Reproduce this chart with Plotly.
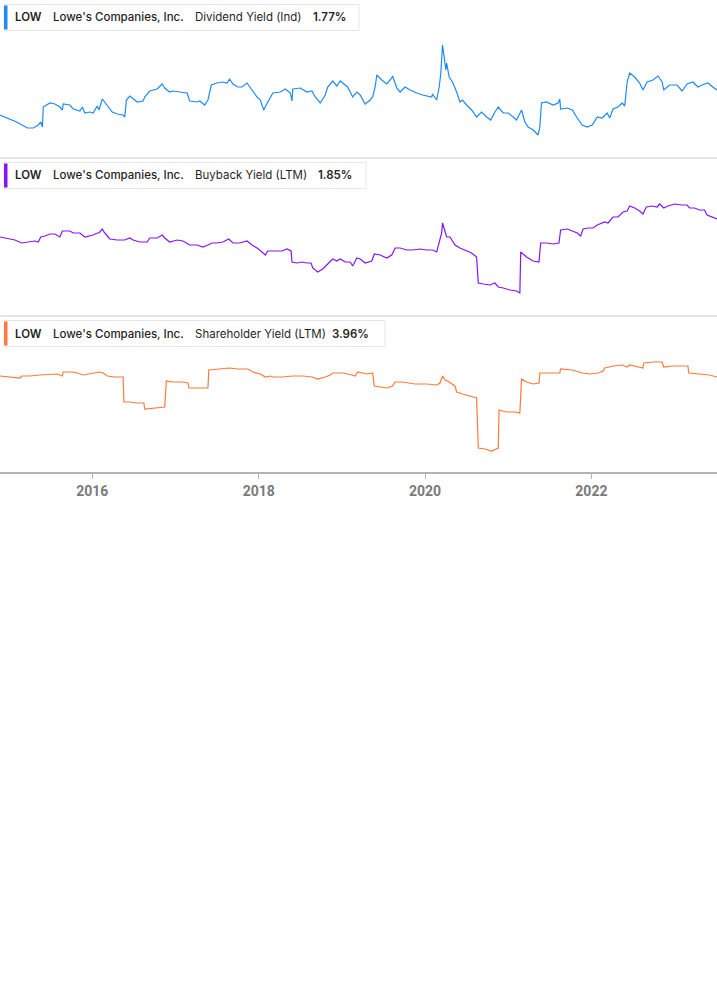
import plotly.graph_objects as go

W, H = 717, 1005

# Dividend yield (Ind), % — x in decimal years
div_years = [2014.89, 2015.01, 2015.09, 2015.22, 2015.29, 2015.35, 2015.38, 2015.40, 2015.41, 2015.49,
             2015.55, 2015.61, 2015.64, 2015.65, 2015.73, 2015.77, 2015.85, 2015.88, 2015.91, 2015.97,
             2016.01, 2016.06, 2016.08, 2016.12, 2016.18, 2016.24, 2016.30, 2016.37, 2016.39, 2016.41,
             2016.45, 2016.49, 2016.54, 2016.61, 2016.63, 2016.69, 2016.78, 2016.84, 2016.87, 2016.93,
             2016.97, 2017.05, 2017.14, 2017.17, 2017.26, 2017.29, 2017.35, 2017.39, 2017.43, 2017.50,
             2017.56, 2017.62, 2017.65, 2017.69, 2017.75, 2017.80, 2017.86, 2017.92, 2017.98, 2018.02,
             2018.06, 2018.11, 2018.17, 2018.26, 2018.32, 2018.38, 2018.40, 2018.41, 2018.50, 2018.58,
             2018.64, 2018.68, 2018.74, 2018.80, 2018.83, 2018.89, 2018.94, 2018.98, 2019.04, 2019.07,
             2019.13, 2019.18, 2019.22, 2019.28, 2019.34, 2019.37, 2019.40, 2019.42, 2019.48, 2019.54,
             2019.60, 2019.61, 2019.66, 2019.70, 2019.76, 2019.82, 2019.90, 2019.97, 2020.08, 2020.09,
             2020.14, 2020.17, 2020.19, 2020.21, 2020.23, 2020.25, 2020.26, 2020.29, 2020.33, 2020.38,
             2020.42, 2020.45, 2020.50, 2020.56, 2020.62, 2020.68, 2020.74, 2020.79, 2020.84, 2020.88,
             2020.94, 2021.00, 2021.06, 2021.10, 2021.16, 2021.20, 2021.24, 2021.30, 2021.36, 2021.38,
             2021.40, 2021.46, 2021.54, 2021.60, 2021.62, 2021.63, 2021.71, 2021.77, 2021.83, 2021.89,
             2021.95, 2022.01, 2022.07, 2022.13, 2022.19, 2022.22, 2022.26, 2022.32, 2022.37, 2022.40,
             2022.43, 2022.46, 2022.52, 2022.58, 2022.62, 2022.67, 2022.74, 2022.80, 2022.85, 2022.87,
             2022.94, 2023.03, 2023.09, 2023.15, 2023.22, 2023.28, 2023.33, 2023.40, 2023.46, 2023.51]
div_yield = [1.27, 1.19, 1.13, 1.01, 1.01, 1.07, 1.13, 1.03, 1.43, 1.51,
             1.49, 1.43, 1.37, 1.49, 1.47, 1.39, 1.35, 1.43, 1.31, 1.33,
             1.31, 1.45, 1.37, 1.59, 1.45, 1.33, 1.29, 1.27, 1.23, 1.57,
             1.65, 1.59, 1.53, 1.55, 1.63, 1.75, 1.79, 1.89, 1.81, 1.73,
             1.75, 1.73, 1.71, 1.55, 1.53, 1.55, 1.47, 1.57, 1.87, 1.91,
             1.93, 1.91, 1.99, 1.89, 1.83, 1.83, 1.91, 1.77, 1.63, 1.57,
             1.37, 1.53, 1.71, 1.73, 1.79, 1.71, 1.55, 1.79, 1.81, 1.73,
             1.75, 1.63, 1.51, 1.67, 1.83, 1.95, 1.85, 1.95, 1.87, 1.83,
             1.63, 1.73, 1.67, 1.49, 1.57, 1.63, 1.83, 2.07, 1.97, 1.89,
             2.01, 2.05, 1.81, 1.73, 1.83, 1.77, 1.71, 1.67, 1.63, 1.69,
             1.57, 1.83, 2.11, 2.67, 2.43, 2.17, 2.31, 2.03, 1.93, 1.73,
             1.53, 1.57, 1.47, 1.37, 1.23, 1.33, 1.23, 1.17, 1.33, 1.43,
             1.31, 1.31, 1.23, 1.17, 1.37, 1.13, 1.03, 0.97, 0.87, 1.03,
             1.51, 1.53, 1.47, 1.51, 1.59, 1.39, 1.41, 1.37, 1.21, 1.07,
             1.03, 1.07, 1.23, 1.21, 1.31, 1.21, 1.39, 1.43, 1.51, 1.45,
             1.93, 2.11, 2.03, 1.91, 1.77, 1.93, 1.97, 2.05, 1.93, 1.77,
             1.87, 1.87, 1.75, 1.89, 1.93, 1.83, 1.87, 1.91, 1.83, 1.77]

# Buyback yield (LTM), %
bb_years = [2014.89, 2014.97, 2015.07, 2015.15, 2015.25, 2015.31, 2015.35, 2015.38, 2015.43, 2015.49,
            2015.55, 2015.61, 2015.64, 2015.73, 2015.77, 2015.85, 2015.91, 2015.97, 2016.01, 2016.06,
            2016.08, 2016.12, 2016.14, 2016.18, 2016.21, 2016.30, 2016.39, 2016.45, 2016.49, 2016.57,
            2016.66, 2016.69, 2016.78, 2016.84, 2016.87, 2016.93, 2017.02, 2017.09, 2017.14, 2017.17,
            2017.26, 2017.33, 2017.39, 2017.44, 2017.50, 2017.57, 2017.64, 2017.69, 2017.77, 2017.86,
            2017.92, 2017.98, 2018.04, 2018.08, 2018.11, 2018.22, 2018.28, 2018.34, 2018.39, 2018.40,
            2018.46, 2018.52, 2018.58, 2018.63, 2018.65, 2018.71, 2018.77, 2018.83, 2018.89, 2018.94,
            2018.98, 2019.04, 2019.10, 2019.13, 2019.18, 2019.22, 2019.28, 2019.36, 2019.39, 2019.46,
            2019.54, 2019.60, 2019.64, 2019.70, 2019.78, 2019.85, 2019.94, 2020.02, 2020.09, 2020.14,
            2020.17, 2020.20, 2020.21, 2020.24, 2020.26, 2020.30, 2020.36, 2020.42, 2020.50, 2020.56,
            2020.62, 2020.64, 2020.70, 2020.78, 2020.84, 2020.88, 2020.94, 2021.02, 2021.10, 2021.14,
            2021.15, 2021.22, 2021.30, 2021.37, 2021.39, 2021.46, 2021.54, 2021.61, 2021.63, 2021.71,
            2021.77, 2021.83, 2021.87, 2021.90, 2021.96, 2022.02, 2022.07, 2022.13, 2022.16, 2022.20,
            2022.26, 2022.32, 2022.38, 2022.43, 2022.46, 2022.52, 2022.58, 2022.62, 2022.66, 2022.73,
            2022.79, 2022.82, 2022.87, 2022.92, 2023.00, 2023.09, 2023.15, 2023.18, 2023.24, 2023.30,
            2023.36, 2023.39, 2023.46, 2023.51]
bb_yield = [1.49, 1.47, 1.43, 1.37, 1.39, 1.41, 1.39, 1.49, 1.51, 1.55,
            1.55, 1.49, 1.61, 1.61, 1.57, 1.57, 1.49, 1.51, 1.53, 1.57,
            1.57, 1.65, 1.59, 1.51, 1.45, 1.43, 1.43, 1.47, 1.43, 1.39,
            1.39, 1.47, 1.47, 1.53, 1.47, 1.39, 1.43, 1.41, 1.37, 1.33,
            1.33, 1.29, 1.33, 1.37, 1.37, 1.39, 1.45, 1.37, 1.37, 1.41,
            1.33, 1.27, 1.19, 1.13, 1.21, 1.21, 1.21, 1.25, 1.21, 0.99,
            0.97, 0.99, 0.97, 0.97, 0.87, 0.79, 0.85, 0.95, 1.05, 1.01,
            1.05, 0.99, 0.99, 0.91, 1.07, 1.05, 0.97, 1.01, 1.15, 1.13,
            1.07, 1.13, 1.27, 1.27, 1.23, 1.23, 1.25, 1.23, 1.23, 1.19,
            1.39, 1.57, 1.77, 1.59, 1.49, 1.49, 1.33, 1.27, 1.21, 1.17,
            1.09, 0.57, 0.55, 0.53, 0.57, 0.49, 0.47, 0.43, 0.41, 0.37,
            1.19, 1.09, 1.01, 0.99, 1.37, 1.37, 1.35, 1.37, 1.63, 1.65,
            1.61, 1.57, 1.51, 1.65, 1.67, 1.67, 1.73, 1.77, 1.79, 1.77,
            1.89, 1.89, 1.99, 2.01, 2.11, 2.07, 2.01, 1.95, 2.09, 2.11,
            2.09, 2.15, 2.07, 2.11, 2.15, 2.13, 2.13, 2.07, 2.07, 2.03,
            2.03, 1.93, 1.89, 1.85]

# Shareholder yield (LTM), %
sh_years = [2014.89, 2015.01, 2015.13, 2015.15, 2015.25, 2015.37, 2015.49, 2015.58, 2015.64, 2015.65,
            2015.76, 2015.82, 2015.89, 2015.95, 2016.03, 2016.09, 2016.13, 2016.18, 2016.27, 2016.37,
            2016.38, 2016.45, 2016.54, 2016.62, 2016.63, 2016.73, 2016.81, 2016.87, 2016.89, 2016.97,
            2017.08, 2017.15, 2017.16, 2017.29, 2017.39, 2017.40, 2017.53, 2017.65, 2017.75, 2017.87,
            2017.93, 2018.02, 2018.08, 2018.14, 2018.17, 2018.29, 2018.41, 2018.53, 2018.64, 2018.71,
            2018.80, 2018.86, 2018.89, 2019.01, 2019.12, 2019.16, 2019.19, 2019.30, 2019.37, 2019.39,
            2019.46, 2019.54, 2019.61, 2019.64, 2019.73, 2019.88, 2020.02, 2020.14, 2020.18, 2020.21,
            2020.24, 2020.27, 2020.36, 2020.38, 2020.45, 2020.54, 2020.62, 2020.64, 2020.72, 2020.80,
            2020.88, 2020.89, 2020.98, 2021.08, 2021.14, 2021.16, 2021.22, 2021.30, 2021.37, 2021.38,
            2021.50, 2021.62, 2021.63, 2021.77, 2021.89, 2021.98, 2022.08, 2022.14, 2022.16, 2022.26,
            2022.37, 2022.43, 2022.46, 2022.55, 2022.62, 2022.63, 2022.74, 2022.85, 2022.87, 2022.98,
            2023.09, 2023.16, 2023.17, 2023.30, 2023.42, 2023.51]
sh_yield = [3.99, 3.96, 3.93, 3.99, 3.99, 4.02, 4.05, 4.05, 3.99, 4.11,
            4.11, 4.08, 4.02, 4.05, 4.08, 4.11, 4.08, 3.99, 3.96, 3.96,
            3.21, 3.21, 3.18, 3.18, 3.00, 3.03, 3.06, 3.06, 3.84, 3.81,
            3.81, 3.78, 3.63, 3.63, 3.63, 4.17, 4.20, 4.23, 4.20, 4.20,
            4.11, 4.05, 3.96, 3.99, 3.96, 3.96, 3.99, 3.99, 3.96, 3.90,
            3.96, 4.02, 4.08, 4.08, 4.02, 3.99, 4.11, 4.05, 4.08, 3.69,
            3.66, 3.63, 3.69, 3.81, 3.81, 3.75, 3.75, 3.72, 3.78, 3.99,
            3.87, 3.84, 3.69, 3.51, 3.45, 3.39, 3.33, 1.83, 1.80, 1.74,
            1.83, 2.97, 2.91, 2.91, 2.88, 3.90, 3.81, 3.75, 3.78, 4.08,
            4.08, 4.08, 4.20, 4.17, 4.08, 4.05, 4.08, 4.14, 4.23, 4.29,
            4.32, 4.26, 4.32, 4.26, 4.23, 4.38, 4.41, 4.41, 4.26, 4.29,
            4.29, 4.29, 4.08, 4.05, 4.02, 3.96]

tick_years = [2016, 2018, 2020, 2022]
tick_labels = ["2016", "2018", "2020", "2022"]

ticker = "LOW"
company = "Lowe's Companies, Inc."
metrics = ["Dividend Yield (Ind)", "Buyback Yield (LTM)", "Shareholder Yield (LTM)"]
latest = ["1.77%", "1.85%", "3.96%"]
colors = ["#1e8af6", "#8614f5", "#ff7a3c"]


def px_x(x):
    return x / W


def px_y(y):
    return 1 - y / H


# panel layout in pixels: (top, bottom), y range, legend box right edge, value x
panels = [
    dict(top=0, bottom=158, rng=[0.41, 3.57], box_right=359, val_x=311),
    dict(top=158, bottom=316, rng=[-0.09, 3.07], box_right=366, val_x=316),
    dict(top=316, bottom=472, rng=[1.11, 5.79], box_right=385, val_x=330),
]

series = [(div_years, div_yield), (bb_years, bb_yield), (sh_years, sh_yield)]

fig = go.Figure()
for i, (xs, ys) in enumerate(series):
    yname = "y" if i == 0 else f"y{i + 1}"
    fig.add_trace(go.Scatter(x=xs, y=ys, mode="lines", xaxis="x", yaxis=yname,
                             line=dict(color=colors[i], width=1.2), showlegend=False,
                             hoverinfo="skip"))

layout = dict(
    width=W, height=H,
    margin=dict(l=0, r=0, t=0, b=0),
    paper_bgcolor="white", plot_bgcolor="white",
    showlegend=False,
    xaxis=dict(range=[2014.89, 2023.51], anchor="y3", showgrid=False, zeroline=False,
               showline=True, linecolor="#b3b3b3", linewidth=2,
               ticks="outside", ticklen=5, tickwidth=1, tickcolor="#b3b3b3",
               tickvals=tick_years, ticktext=tick_labels,
               tickfont=dict(family="Liberation Sans Narrow, Roboto, sans-serif", size=14,
                             color="#7a7a7a", weight="bold"),
               fixedrange=True),
)
shapes = []
annotations = []
for i, p in enumerate(panels):
    key = "yaxis" if i == 0 else f"yaxis{i + 1}"
    layout[key] = dict(domain=[px_y(p["bottom"]), px_y(p["top"])], range=p["rng"],
                       visible=False, fixedrange=True)
    t = p["top"]
    # separator under upper panels
    if i < 2:
        shapes.append(dict(type="line", xref="paper", yref="paper", x0=0, x1=1,
                           y0=px_y(p["bottom"]), y1=px_y(p["bottom"]),
                           line=dict(color="#cccccc", width=1)))
    # legend box
    shapes.append(dict(type="rect", xref="paper", yref="paper",
                       x0=px_x(4), x1=px_x(p["box_right"]), y0=px_y(t + 30.5), y1=px_y(t + 4.5),
                       line=dict(color="#e6e6e6", width=1), fillcolor="white"))
    shapes.append(dict(type="rect", xref="paper", yref="paper",
                       x0=px_x(4), x1=px_x(7.5), y0=px_y(t + 29.5), y1=px_y(t + 5.5),
                       line=dict(width=0), fillcolor=colors[i]))
    cy = px_y(t + 17.5)
    parts = [(13, ticker, 600), (51, company, 500), (193, metrics[i], 400), (p["val_x"], latest[i], 600)]
    for x, txt, wt in parts:
        annotations.append(dict(xref="paper", yref="paper", x=px_x(x), y=cy, text=txt,
                                showarrow=False, xanchor="left", yanchor="middle",
                                font=dict(family="Inter, Roboto, sans-serif", size=11.5,
                                          color="#1f1f1f", weight=wt)))

layout["shapes"] = shapes
layout["annotations"] = annotations
fig.update_layout(**layout)

fig.write_html("out.html", config={"displayModeBar": False},
               post_script="document.body.style.margin='0';")
